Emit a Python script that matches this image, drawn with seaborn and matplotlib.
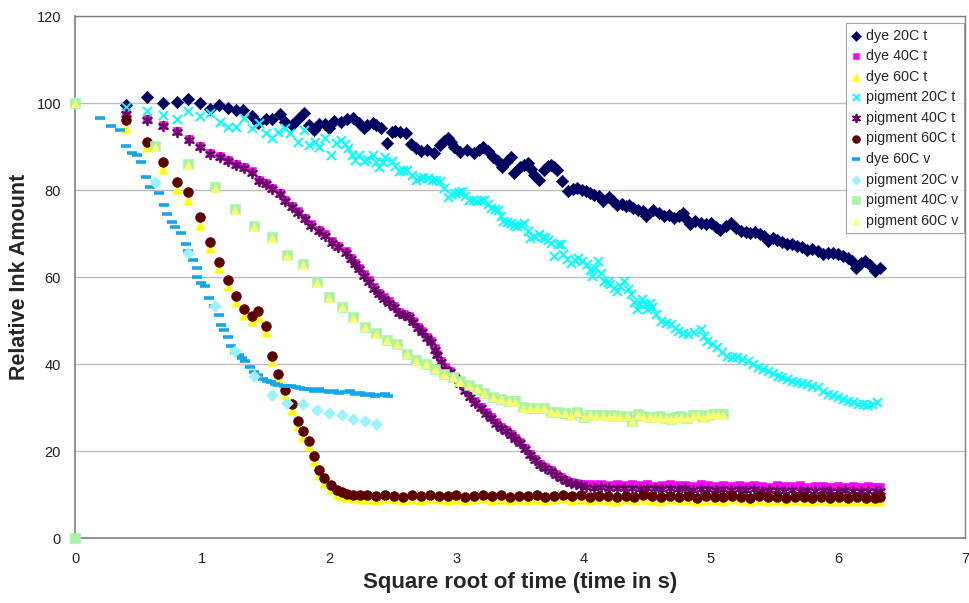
import matplotlib
matplotlib.use("Agg")
import matplotlib.pyplot as plt
import seaborn as sns
import pandas as pd

# ---------------- data ----------------
dye20t_x = [0.40,0.57,0.69,0.80,0.89,0.98,1.06,1.13,1.20,1.27,
            1.32,1.39,1.44,1.50,1.55,1.61,1.65,1.71,1.75,1.80,
            1.84,1.88,1.92,1.97,2.00,2.04,2.09,2.14,2.19,2.23,
            2.27,2.30,2.34,2.37,2.41,2.45,2.49,2.52,2.56,2.60,
            2.64,2.68,2.72,2.77,2.82,2.87,2.90,2.93,2.96,2.98,
            3.03,3.08,3.14,3.18,3.21,3.25,3.29,3.33,3.36,3.40,
            3.43,3.45,3.50,3.53,3.56,3.59,3.61,3.65,3.69,3.72,
            3.74,3.77,3.79,3.83,3.88,3.92,3.95,3.99,4.02,4.05,
            4.08,4.12,4.15,4.20,4.23,4.26,4.30,4.33,4.36,4.39,
            4.43,4.47,4.49,4.55,4.59,4.63,4.67,4.71,4.75,4.78,
            4.81,4.84,4.88,4.92,4.96,5.00,5.04,5.07,5.12,5.16,
            5.20,5.24,5.28,5.31,5.35,5.39,5.42,5.45,5.49,5.52,
            5.56,5.60,5.64,5.68,5.72,5.76,5.80,5.84,5.88,5.92,
            5.96,6.00,6.04,6.08,6.11,6.14,6.18,6.21,6.25,6.29,
            6.33]
dye20t_y = [99.6,101.3,99.9,100.3,100.9,99.9,98.6,99.6,98.9,98.4,
            98.5,97.0,95.3,96.3,96.3,97.4,95.7,95.0,96.3,97.7,
            95.0,93.8,95.1,95.1,94.2,95.9,95.6,96.3,96.6,95.3,
            94.2,95.0,95.4,95.0,94.2,90.7,93.4,93.5,93.3,93.0,
            90.5,89.6,88.9,89.2,88.5,90.4,91.2,91.9,91.0,90.0,
            88.8,89.3,88.5,89.2,90.0,88.9,87.7,86.6,85.4,86.6,
            87.7,83.9,85.4,85.8,86.2,84.9,83.5,82.4,84.7,85.5,
            85.8,85.2,84.7,82.0,79.7,80.2,80.5,80.0,79.7,79.4,
            78.9,78.6,77.4,78.5,77.5,76.6,76.8,76.3,76.5,75.9,
            75.5,75.1,74.0,75.5,74.8,74.0,74.2,73.6,74.0,74.8,
            73.2,72.1,72.8,72.5,72.2,72.5,71.6,70.9,71.8,72.5,
            71.2,70.6,70.3,70.2,70.4,69.8,69.4,68.2,69.0,68.6,
            68.0,67.5,67.6,67.1,66.8,66.3,66.4,65.9,65.3,65.6,
            65.5,65.2,64.8,64.4,63.6,62.1,63.2,63.7,62.8,61.4,
            62.1]

t40_x = [0.40,0.57,0.69,0.80,0.90,0.98,1.06,1.14,1.20,1.27,
         1.33,1.39,1.45,1.50,1.55,1.61,1.65,1.71,1.75,1.81,
         1.86,1.92,1.97,2.02,2.07,2.13,2.17,2.20,2.23,2.27,
         2.31,2.35,2.39,2.43,2.47,2.51,2.55,2.59,2.63,2.66,
         2.70,2.73,2.77,2.80,2.83,2.85,2.88,2.91,2.95,2.99,
         3.03,3.07,3.11,3.15,3.19,3.23,3.27,3.31,3.35,3.39,
         3.43,3.46,3.50,3.54,3.58,3.62,3.66,3.70,3.74,3.78,
         3.82,3.86,3.90,3.94,3.98,
         4.02,4.08,4.14,4.20,4.26,4.32,4.38,4.44,4.50,4.56,
         4.62,4.68,4.74,4.80,4.86,4.92,4.98,5.04,5.10,5.16,
         5.22,5.28,5.34,5.40,5.46,5.52,5.58,5.64,5.70,5.76,
         5.82,5.88,5.94,6.00,6.06,6.12,6.18,6.24,6.30,6.33]
dye40t_y = [97.7,96.3,95.0,93.6,91.8,90.2,88.6,87.9,87.0,86.0,
            85.4,84.3,82.4,81.7,80.5,79.3,77.8,76.3,75.1,73.6,
            72.1,70.9,69.8,68.2,67.1,65.9,64.4,63.2,62.1,60.6,
            59.2,57.6,56.3,55.3,54.4,53.4,52.0,51.5,51.0,49.9,
            48.5,47.6,46.3,45.3,43.6,42.3,40.8,39.2,38.5,37.0,
            35.8,34.2,32.7,31.4,30.1,28.9,27.8,26.6,25.5,24.8,
            24.0,23.0,22.1,20.8,19.4,18.2,17.1,16.3,15.6,14.8,
            14.0,13.4,12.9,12.7,12.5,
            12.4,12.3,12.5,12.2,12.3,12.1,12.4,12.2,12.3,12.0,
            12.2,12.4,12.1,12.2,12.0,12.3,12.1,11.9,12.2,12.0,
            12.1,11.9,12.2,12.0,11.8,12.1,12.0,11.9,12.1,11.8,
            12.0,11.9,11.7,12.0,11.8,11.9,11.7,11.9,11.8,11.7]
pig40t_y = [97.4,96.0,94.8,93.3,91.5,90.0,88.3,87.6,86.7,85.8,
            85.1,84.0,82.1,81.4,80.2,79.0,77.5,76.0,74.8,73.3,
            71.8,70.6,69.5,67.9,66.8,65.6,64.1,62.9,61.8,60.3,
            58.9,57.3,56.0,55.0,54.1,53.1,51.7,51.2,50.7,49.6,
            48.2,47.3,46.0,45.0,43.3,42.0,40.5,38.9,38.2,36.7,
            35.5,33.9,32.4,31.1,29.8,28.6,27.5,26.3,25.2,24.5,
            23.7,22.7,21.8,20.5,19.1,17.9,16.8,16.0,15.3,14.5,
            13.7,13.1,12.6,12.3,12.1,
            11.8,11.6,11.7,11.5,11.6,11.4,11.6,11.3,11.5,11.4,
            11.2,11.5,11.3,11.4,11.1,11.3,11.2,11.0,11.3,11.1,
            11.2,11.0,11.2,10.9,11.1,11.0,10.8,11.1,10.9,11.0,
            10.8,11.0,10.9,10.7,11.0,10.8,10.9,10.7,10.9,10.8]

t60_x = [0.40,0.57,0.69,0.80,0.89,0.98,1.06,1.13,1.20,1.27,
         1.33,1.39,1.44,1.50,1.55,1.60,1.65,1.71,1.75,1.79,
         1.84,1.88,1.92,1.96,2.01,2.06,2.10,2.14,2.19,2.24,
         2.30,2.37,2.44,2.51,2.58,2.65,2.72,2.79,2.86,2.93,
         3.00,3.07,3.14,3.21,3.28,3.35,3.42,3.49,3.56,3.63,
         3.70,3.77,3.84,3.91,3.98,4.05,4.12,4.19,4.26,4.33,
         4.40,4.47,4.54,4.61,4.68,4.75,4.82,4.89,4.96,5.03,
         5.10,5.17,5.24,5.31,5.38,5.45,5.52,5.59,5.66,5.73,
         5.80,5.87,5.94,6.01,6.08,6.15,6.22,6.29,6.33]
dye60t_y = [94.3,89.8,84.8,80.2,77.8,72.0,66.6,62.0,57.9,54.2,
            51.2,49.8,50.8,47.4,40.6,36.5,32.9,29.5,25.8,23.3,
            21.2,17.6,14.5,12.7,11.2,10.2,9.7,9.4,9.2,9.0,
            9.0,8.8,9.1,8.9,8.7,9.0,8.8,9.1,8.9,8.8,
            9.0,8.7,8.9,9.1,8.8,9.0,8.7,8.9,8.8,9.0,
            8.7,8.9,9.1,8.8,9.0,8.7,8.9,8.8,8.6,8.9,
            8.7,9.0,8.8,8.6,8.9,8.7,8.8,8.5,8.8,8.7,
            8.6,8.9,8.7,8.5,8.8,8.6,8.7,8.5,8.7,8.6,
            8.4,8.7,8.5,8.6,8.4,8.6,8.5,8.4,8.6]
pig60t_y = [96.1,91.1,86.4,81.8,79.5,73.7,68.1,63.5,59.3,55.6,
            52.6,51.1,52.2,48.8,41.9,37.8,34.1,30.7,27.0,24.5,
            22.4,18.8,15.6,13.7,12.1,11.0,10.5,10.2,10.0,9.8,
            9.8,9.6,9.9,9.7,9.5,9.8,9.6,9.9,9.7,9.6,
            9.8,9.5,9.7,9.9,9.6,9.8,9.5,9.7,9.6,9.8,
            9.5,9.7,9.9,9.6,9.8,9.5,9.7,9.6,9.4,9.7,
            9.5,9.8,9.6,9.4,9.7,9.5,9.6,9.3,9.6,9.5,
            9.4,9.7,9.5,9.3,9.6,9.4,9.5,9.3,9.5,9.4,
            9.2,9.5,9.3,9.4,9.2,9.4,9.3,9.2,9.4]

pig20t_x = [0.40,0.57,0.69,0.80,0.89,0.98,1.06,1.14,1.20,1.27,
            1.33,1.39,1.45,1.50,1.55,1.60,1.65,1.69,1.75,1.80,
            1.84,1.89,1.92,1.97,2.01,2.05,2.09,2.12,2.15,2.18,
            2.20,2.23,2.27,2.30,2.34,2.37,2.39,2.42,2.44,2.49,
            2.52,2.55,2.58,2.61,2.65,2.68,2.71,2.74,2.78,2.81,
            2.84,2.87,2.90,2.93,2.96,2.99,3.02,3.04,3.07,3.10,
            3.13,3.16,3.19,3.22,3.25,3.27,3.30,3.33,3.35,3.37,
            3.40,3.43,3.45,3.48,3.51,3.53,3.56,3.58,3.61,3.65,
            3.68,3.70,3.72,3.74,3.77,3.80,3.82,3.84,3.87,3.90,
            3.93,3.96,3.99,4.03,4.05,4.07,4.09,4.11,4.14,4.16,
            4.19,4.21,4.24,4.26,4.29,4.32,4.35,4.37,4.40,4.42,
            4.44,4.46,4.48,4.50,4.52,4.54,4.57,4.61,4.65,4.69,
            4.72,4.74,4.78,4.82,4.87,4.92,4.95,4.97,5.01,5.05,
            5.09,5.13,5.17,5.21,5.25,5.29,5.33,5.37,5.41,5.45,
            5.49,5.53,5.56,5.60,5.64,5.68,5.72,5.76,5.80,5.84,
            5.88,5.92,5.96,6.00,6.04,6.08,6.12,6.16,6.20,6.23,
            6.27,6.31]
pig20t_y = [99.0,98.2,97.3,96.3,98.2,97.0,97.7,95.7,94.4,94.4,
            96.6,94.2,95.4,93.1,91.9,93.4,94.2,93.1,91.1,93.9,
            90.4,91.1,90.0,91.9,88.1,90.8,91.6,90.5,89.7,88.0,
            87.0,88.1,86.6,87.2,88.1,86.4,85.4,86.5,87.7,86.6,
            85.5,84.3,84.6,84.7,83.5,82.4,82.7,83.1,82.8,82.4,
            82.3,82.0,80.5,78.5,79.0,79.3,79.6,79.7,78.6,77.8,
            77.6,77.4,77.6,77.8,76.8,75.9,75.7,75.5,74.0,72.8,
            72.6,72.4,72.0,71.7,72.0,72.4,70.5,69.0,69.4,69.8,
            69.3,69.0,68.4,67.9,64.8,67.7,67.5,65.2,64.2,63.3,
            63.8,64.4,63.6,62.9,61.5,60.2,62.0,63.7,61.0,59.1,
            58.8,58.3,57.5,56.8,58.0,59.1,57.2,56.0,54.2,52.6,
            53.8,54.9,53.8,52.6,54.0,53.0,51.5,49.9,49.5,49.2,
            48.3,47.6,47.2,46.9,47.4,48.0,46.5,45.3,44.5,43.8,
            42.8,41.9,41.7,41.5,41.1,40.8,40.0,39.2,38.8,38.5,
            37.9,37.3,36.9,36.6,36.2,35.8,35.6,35.4,35.0,34.7,
            33.9,33.1,32.8,32.4,32.0,31.6,31.2,30.8,30.7,30.5,
            30.9,31.2]

dye60v_x = [0.20,0.28,0.35,0.40,0.45,0.49,0.52,0.56,0.59,0.66,
            0.70,0.72,0.76,0.79,0.83,0.87,0.89,0.93,0.96,0.96,
            0.99,1.02,1.05,1.09,1.13,1.15,1.17,1.20,1.23,1.26,
            1.29,1.31,1.34,1.38,1.41,1.44,1.48,1.51,1.54,1.57,
            1.60,1.64,1.67,1.70,1.74,1.77,1.80,1.84,1.88,1.92,
            1.96,2.00,2.04,2.08,2.12,2.16,2.20,2.24,2.28,2.32,
            2.36,2.40,2.44,2.46]
dye60v_y = [96.6,94.6,93.8,90.2,88.6,88.1,86.4,82.9,80.8,79.3,
            76.5,74.5,72.7,71.5,70.2,67.5,66.0,64.0,62.0,59.9,
            58.7,57.9,55.2,53.3,51.2,49.0,47.8,46.1,44.2,42.7,
            42.0,41.4,40.6,39.2,38.2,37.5,36.6,36.1,35.8,35.5,
            35.2,35.0,34.9,35.0,34.6,34.4,34.3,34.2,33.9,34.3,
            33.8,33.6,33.9,33.4,33.6,33.8,33.2,33.4,32.9,33.2,
            32.6,32.9,33.2,32.6]

pig20v_x = [0.00,0.63,0.89,1.10,1.26,1.41,1.55,1.67,1.79,1.90,
            2.00,2.10,2.19,2.28,2.37]
pig20v_y = [100.0,81.8,65.6,53.4,42.9,37.3,32.9,31.0,30.8,29.5,
            28.7,28.3,27.4,27.0,26.1]

pigv_x = [0.00,0.63,0.89,1.10,1.26,1.41,1.55,1.67,1.79,1.90,
          2.00,2.10,2.19,2.28,2.37,2.45,2.53,2.61,2.68,2.76,
          2.83,2.90,2.97,3.03,3.10,3.16,3.22,3.29,3.35,3.41,
          3.46,3.52,3.58,3.63,3.69,3.74,3.79,3.85,3.90,3.95,
          4.00,4.05,4.10,4.15,4.20,4.24,4.29,4.34,4.38,4.43,
          4.47,4.52,4.56,4.60,4.65,4.69,4.73,4.77,4.81,4.86,
          4.90,4.94,4.98,5.02,5.06,5.10]
pig40v_y = [100.0,90.2,86.0,80.7,75.6,71.7,69.2,65.0,63.0,58.8,
            55.3,53.2,50.7,48.5,47.1,45.6,44.6,42.3,40.9,40.0,
            38.9,37.7,37.1,36.0,35.2,34.3,33.4,32.5,32.0,31.6,
            31.4,30.1,29.9,29.9,29.9,29.0,29.0,28.8,28.2,29.0,
            27.9,28.3,28.2,28.2,28.0,28.2,28.0,28.1,27.0,28.4,
            28.0,27.9,27.8,28.0,27.6,27.4,27.8,28.0,27.6,28.2,
            28.3,27.8,28.3,28.5,28.4,28.4]
pig40v_extra_x = [0.0]
pig40v_extra_y = [0.0]
pig60v_y = [100.0,90.0,85.8,80.5,75.5,71.5,69.0,64.9,62.8,58.7,
            55.2,53.1,50.6,48.4,47.0,45.5,44.5,42.2,40.8,39.9,
            38.8,37.6,37.0,35.9,35.1,34.2,33.3,32.4,31.9,31.5,
            31.3,30.0,29.8,29.8,29.8,28.9,28.9,28.7,28.1,28.9,
            27.8,28.2,28.1,28.1,27.9,28.1,27.9,28.0,26.9,28.3,
            27.9,27.8,27.7,27.9,27.5,27.3,27.7,27.9,27.5,28.1,
            28.2,27.7,28.2,28.4,28.3,28.3]

x_ticks = [0, 1, 2, 3, 4, 5, 6, 7]
y_ticks = [0, 20, 40, 60, 80, 100, 120]
x_label = "Square root of time (time in s)"
y_label = "Relative Ink Amount"

# ---------------- style ----------------
sns.set_style("white")
plt.rcParams["font.family"] = ["Liberation Sans", "DejaVu Sans"]

fig = plt.figure(figsize=(9.7, 6.03), dpi=100)
ax = fig.add_axes([75/970, 1-538/603, 890/970, 522/603])

series = [
    ("dye 20C t", dye20t_x, dye20t_y, "D", "#000060", 40, dict(edgecolor="#000060", linewidth=0.4)),
    ("dye 40C t", t40_x, dye40t_y, "s", "#FF00FF", 38, dict(edgecolor="#FF00FF", linewidth=0.4)),
    ("dye 60C t", t60_x, dye60t_y, "^", "#FFFF00", 44, dict(edgecolor="#FFFF00", linewidth=0.4)),
    ("pigment 20C t", pig20t_x, pig20t_y, "x", "#00FFFF", 42, dict(linewidth=1.4)),
    ("pigment 40C t", t40_x, pig40t_y, (6, 2, 0), "#660066", 48, dict(linewidth=1.3)),
    ("pigment 60C t", t60_x, pig60t_y, "o", "#5C0000", 50, dict(edgecolor="#5C0000", linewidth=0.4)),
    ("dye 60C v", dye60v_x, dye60v_y, "_", "#14A6EA", 50, dict(linewidth=2.6)),
    ("pigment 20C v", pig20v_x, pig20v_y, "D", "#9BF3FF", 36, dict(edgecolor="#9BF3FF", linewidth=0.4)),
    ("pigment 40C v", pig40v_extra_x + pigv_x, pig40v_extra_y + pig40v_y, "s", "#A6F5A6", 46, dict(edgecolor="#A6F5A6", linewidth=0.4)),
    ("pigment 60C v", pigv_x, pig60v_y, "^", "#FFFF70", 34, dict(edgecolor="#FFFF70", linewidth=0.4)),
]

for label, xs, ys, mk, col, size, kw in series:
    df = pd.DataFrame({"x": xs, "y": ys})
    sns.scatterplot(data=df, x="x", y="y", ax=ax, marker=mk, color=col, s=size,
                    label=label, clip_on=False, zorder=3, **kw)

ax.set_xlim(0, 7)
ax.set_ylim(0, 120)
ax.set_xticks(x_ticks)
ax.set_yticks(y_ticks)
ax.tick_params(axis="both", labelsize=10.5, colors="#222222", length=4, width=1,
               direction="out", pad=6)
ax.tick_params(axis="both", color="#808080")
ax.tick_params(axis="x", pad=6)
ax.yaxis.grid(True, color="#BDBDBD", linewidth=1)
ax.xaxis.grid(False)
ax.set_axisbelow(True)
for side, sp in ax.spines.items():
    sp.set_color("#7F7F7F")
    sp.set_linewidth(1.2 if side in ("left", "bottom") else 1.0)
    sp.set_zorder(2)

ax.set_xlabel(x_label, fontsize=16, fontweight="bold")
ax.set_ylabel(y_label, fontsize=15.5, fontweight="bold")
ax.xaxis.set_label_coords(0.5, -0.066)
ax.yaxis.set_label_coords(-0.050, 0.5)

leg = ax.legend(loc="upper right", bbox_to_anchor=(0.9985, 0.987), fontsize=10.3,
                frameon=True, fancybox=False, edgecolor="#8C8C8C",
                handlelength=0.6, handletextpad=0.35, borderpad=0.4,
                labelspacing=0.46, borderaxespad=0.0, markerscale=0.8)
leg.get_frame().set_linewidth(0.8)
leg.set_zorder(5)

fig.savefig("out.png", dpi=100)
